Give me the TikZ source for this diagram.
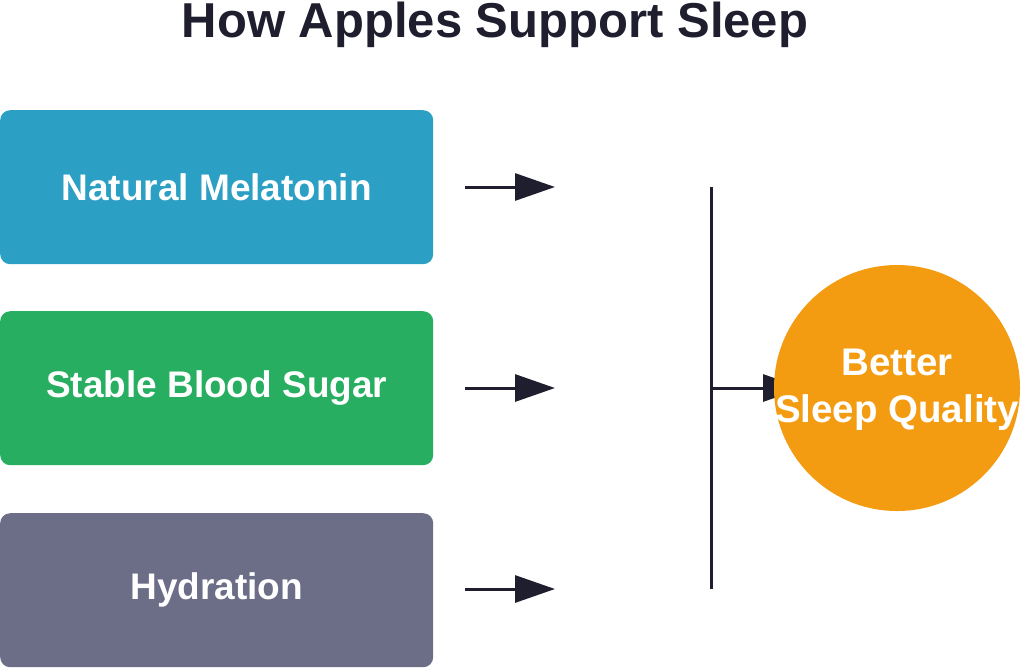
\documentclass[tikz,border=0pt]{standalone}
\usepackage{fontspec}
\setmainfont{Liberation Sans}
\usetikzlibrary{arrows.meta}
\definecolor{cblue}{HTML}{2B9FC4}
\definecolor{cgreen}{HTML}{27AE60}
\definecolor{cgray}{HTML}{6B6E86}
\definecolor{corange}{HTML}{F39C12}
\definecolor{cdark}{HTML}{1E1E2E}
\begin{document}
\begin{tikzpicture}[x=1pt,y=-1pt,
  box/.style={rounded corners=10pt, minimum width=433pt, minimum height=154pt, inner sep=0pt, anchor=north west, text=white, font=\fontsize{37}{44}\selectfont\bfseries},
  arr/.style={draw=cdark, line width=3pt, -{Triangle[length=40pt,width=27pt]}},
  ln/.style={draw=cdark, line width=3pt}
]
\useasboundingbox (0,0) rectangle (1024,667);
\node[font=\fontsize{49}{56}\selectfont\bfseries, text=cdark] (title) at (495,25) {How Apples Support Sleep};
\node[box, fill=cblue] (b1) at (0,110) {Natural Melatonin};
\node[box, fill=cgreen] (b2) at (0,311) {Stable Blood Sugar};
\node[box, fill=cgray] (b3) at (0,513) {Hydration};
\coordinate (s1) at (465,187);
\coordinate (e1) at (555,187);
\coordinate (s2) at (465,388);
\coordinate (e2) at (555,388);
\coordinate (s3) at (465,589);
\coordinate (e3) at (555,589);
\coordinate (vt) at (711,187);
\coordinate (vm) at (711,388);
\coordinate (vb) at (711,589);
\coordinate (ce) at (803,388);
\draw[arr] (s1) -- (e1);
\draw[arr] (s2) -- (e2);
\draw[arr] (s3) -- (e3);
\draw[ln] (vt) -- (vb);
\draw[arr] (vm) -- (ce);
\node[circle, fill=corange, minimum size=246pt, inner sep=0pt] (out) at (897,388) {};
\node[text=white, align=center, font=\fontsize{38.5}{47}\selectfont\bfseries] (outtext) at (897,390) {Better\\Sleep Quality};
\end{tikzpicture}
\end{document}
